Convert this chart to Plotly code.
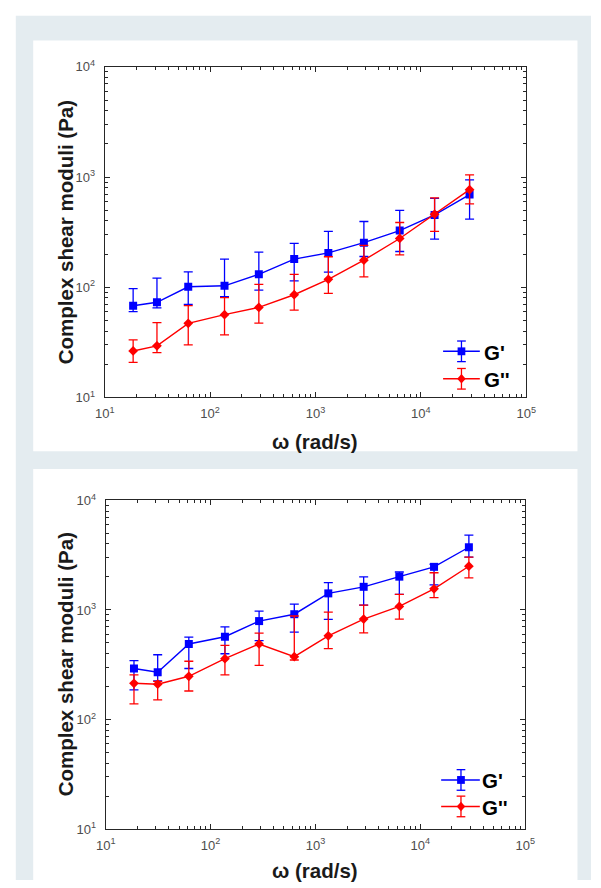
import plotly.graph_objects as go

# Angular frequency (rad/s), shared by both samples
omega = [18.6, 31.3, 62, 137, 290, 628, 1325, 2880, 6300, 13500, 29000]

# Sample 1: storage (G') and loss (G'') moduli, Pa, with error-bar limits
g1_storage = [68, 73, 101, 103, 131, 180, 205, 254, 327, 453, 693]
g1_storage_hi = [97, 121, 138, 180, 208, 250, 322, 395, 499, 640, 942]
g1_storage_lo = [60, 65, 70, 82, 94, 114, 137, 190, 211, 273, 415]
g1_loss = [26.4, 29.4, 47, 56.4, 65.6, 85.5, 118, 176, 277, 460, 768]
g1_loss_hi = [33.3, 47.7, 68.2, 80.5, 106, 131, 189, 240, 387, 646, 1045]
g1_loss_lo = [20.8, 25.5, 30, 36.9, 47.2, 62, 88, 124, 197, 322, 571]

# Sample 2
g2_storage = [292, 270, 489, 569, 791, 914, 1416, 1626, 2013, 2474, 3735]
g2_storage_hi = [345, 390, 565, 699, 977, 1130, 1777, 2000, 2220, 2614, 4820]
g2_storage_lo = [186, 225, 292, 398, 524, 627, 820, 1107, 1387, 1695, 3040]
g2_loss = [214, 210, 248, 359, 489, 374, 580, 825, 1077, 1560, 2506]
g2_loss_hi = [255, 223, 340, 475, 614, 880, 957, 1107, 1387, 2186, 3040]
g2_loss_lo = [139, 151, 182, 255, 312, 349, 444, 618, 825, 1297, 1960]

# Axis ticks
x_tickvals = [1e1, 1e2, 1e3, 1e4, 1e5]
x_ticktext = ["10<sup>1</sup>", "10<sup>2</sup>", "10<sup>3</sup>", "10<sup>4</sup>", "10<sup>5</sup>"]
y_tickvals = [1e1, 1e2, 1e3, 1e4]
y_ticktext = ["10<sup>1</sup>", "10<sup>2</sup>", "10<sup>3</sup>", "10<sup>4</sup>"]

series_names = ["G'", "G''"]
BLUE = "#0000ff"
RED = "#ff0000"
AX = "#262626"
FONT = "Arial, 'Liberation Sans', Helvetica, sans-serif"

W, H = 601, 888


def px(x):
    """pixel column -> paper x"""
    return x / W


def py(y):
    """pixel row -> paper y"""
    return 1 - y / H


x_minor = [m * 10 ** k for k in range(1, 5) for m in range(2, 10)]
y_minor = [m * 10 ** k for k in range(1, 4) for m in range(2, 10)]

fig = go.Figure()


def add_series(y, lo, hi, color, symbol, size, name, xa, ya):
    fig.add_trace(go.Scatter(
        x=omega, y=y, name=name, mode="lines+markers", xaxis=xa, yaxis=ya,
        showlegend=False,
        line=dict(color=color, width=1.4),
        marker=dict(symbol=symbol, size=size, color=color, line=dict(width=0)),
        error_y=dict(type="data", symmetric=False,
                     array=[h - v for h, v in zip(hi, y)],
                     arrayminus=[v - l for v, l in zip(y, lo)],
                     color=color, thickness=1.3, width=4.5),
    ))


add_series(g1_storage, g1_storage_lo, g1_storage_hi, BLUE, "square", 8, series_names[0], "x", "y")
add_series(g1_loss, g1_loss_lo, g1_loss_hi, RED, "diamond", 7.5, series_names[1], "x", "y")
add_series(g2_storage, g2_storage_lo, g2_storage_hi, BLUE, "square", 8, series_names[0], "x2", "y2")
add_series(g2_loss, g2_loss_lo, g2_loss_hi, RED, "diamond", 7.5, series_names[1], "x2", "y2")


def xaxis_cfg(domain, anchor):
    return dict(
        type="log", range=[1, 5], domain=domain, anchor=anchor,
        showline=True, linecolor=AX, linewidth=1, mirror="allticks",
        ticks="inside", ticklen=5, tickwidth=1, tickcolor=AX,
        tickmode="array", tickvals=x_tickvals, ticktext=x_ticktext,
        ticklabelstandoff=4,
        tickfont=dict(family=FONT, size=13, color="#4d4d4d"),
        minor=dict(ticks="inside", ticklen=3, tickwidth=1, tickcolor=AX,
                   tickmode="array", tickvals=x_minor, showgrid=False),
        showgrid=False, zeroline=False,
    )


def yaxis_cfg(domain, anchor):
    return dict(
        type="log", range=[1, 4], domain=domain, anchor=anchor,
        showline=True, linecolor=AX, linewidth=1, mirror="allticks",
        ticks="inside", ticklen=5, tickwidth=1, tickcolor=AX,
        tickmode="array", tickvals=y_tickvals, ticktext=y_ticktext,
        ticklabelstandoff=6,
        tickfont=dict(family=FONT, size=13, color="#4d4d4d"),
        minor=dict(ticks="inside", ticklen=3, tickwidth=1, tickcolor=AX,
                   tickmode="array", tickvals=y_minor, showgrid=False),
        showgrid=False, zeroline=False,
    )


shapes = [
    dict(type="rect", xref="paper", yref="paper", x0=px(6), x1=1, y0=0, y1=py(7),
         fillcolor="#e4ecf0", line=dict(width=0), layer="below"),
    dict(type="rect", xref="paper", yref="paper", x0=px(24), x1=px(587), y0=py(451), y1=py(32),
         fillcolor="white", line=dict(width=0), layer="below"),
    dict(type="rect", xref="paper", yref="paper", x0=px(24), x1=px(587), y0=0, y1=py(469),
         fillcolor="white", line=dict(width=0), layer="below"),
]
annotations = []


def legend_entry(x0, x1, xm, yc, color, kind, label, tx):
    # sample line
    shapes.append(dict(type="line", xref="paper", yref="paper",
                       x0=px(x0), x1=px(x1), y0=py(yc), y1=py(yc),
                       line=dict(color=color, width=1.4)))
    # error bar with caps
    shapes.append(dict(type="line", xref="paper", yref="paper",
                       x0=px(xm), x1=px(xm), y0=py(yc - 10.5), y1=py(yc + 10.5),
                       line=dict(color=color, width=1.3)))
    for dy in (-10.5, 10.5):
        shapes.append(dict(type="line", xref="paper", yref="paper",
                           x0=px(xm - 4.5), x1=px(xm + 4.5), y0=py(yc + dy), y1=py(yc + dy),
                           line=dict(color=color, width=1.3)))
    if kind == "square":
        shapes.append(dict(type="rect", xref="paper", yref="paper",
                           x0=px(xm - 4), x1=px(xm + 4), y0=py(yc + 4), y1=py(yc - 4),
                           fillcolor=color, line=dict(width=0)))
    else:
        r = 4.9
        path = (f"M {px(xm)} {py(yc - r)} L {px(xm + r * 0.9)} {py(yc)} "
                f"L {px(xm)} {py(yc + r)} L {px(xm - r * 0.9)} {py(yc)} Z")
        shapes.append(dict(type="path", xref="paper", yref="paper", path=path,
                           fillcolor=color, line=dict(width=0)))
    annotations.append(dict(text=f"<b>{label}</b>", x=px(tx), y=py(yc + 1), xref="paper", yref="paper",
                            xanchor="left", yanchor="middle", showarrow=False,
                            font=dict(family=FONT, size=20.5, color="#000000")))


legend_entry(448, 486, 467, 349, BLUE, "square", series_names[0], 488)
legend_entry(448, 486, 467, 377, RED, "diamond", series_names[1], 488)
legend_entry(446, 486, 466.5, 786, BLUE, "square", series_names[0], 486)
legend_entry(446, 486, 466.5, 813, RED, "diamond", series_names[1], 486)

title_font = dict(family=FONT, size=20.5, color="#1a1a1a")
for yc in (227.5, 668):
    annotations.append(dict(text="<b>Complex shear moduli (Pa)</b>", x=px(57), y=py(yc),
                            xref="paper", yref="paper", textangle=-90, showarrow=False,
                            xanchor="center", yanchor="middle", font=title_font))
for yc in (441, 878):
    annotations.append(dict(text="<b>ω (rad/s)</b>", x=px(316), y=py(yc),
                            xref="paper", yref="paper", showarrow=False,
                            xanchor="center", yanchor="middle", font=title_font))

fig.update_layout(
    width=W, height=H, margin=dict(l=0, r=0, t=0, b=0),
    paper_bgcolor="white", plot_bgcolor="rgba(0,0,0,0)",
    xaxis=xaxis_cfg([px(98), px(534)], "y"),
    yaxis=yaxis_cfg([py(396), py(59)], "x"),
    xaxis2=xaxis_cfg([px(99), px(533)], "y2"),
    yaxis2=yaxis_cfg([py(836), py(501)], "x2"),
    shapes=shapes, annotations=annotations,
    font=dict(family=FONT),
)

fig.write_html("out.html")
